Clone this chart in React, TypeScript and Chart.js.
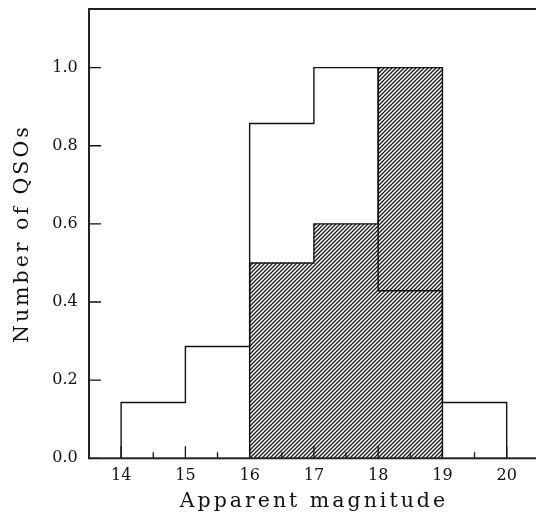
import React, { useEffect, useRef } from 'react';
import { Chart, registerables } from 'chart.js';

Chart.register(...registerables);

// ---- data ----
const binEdges = [14, 15, 16, 17, 18, 19, 20];
const allCounts = [0.143, 0.286, 0.857, 1.0, 0.429, 0.143];
const subEdges = [16, 17, 18, 19];
const subCounts = [0.5, 0.6, 1.0];
const xTicks = [14, 15, 16, 17, 18, 19, 20];
const yTicks = [0, 0.2, 0.4, 0.6, 0.8, 1.0];
const xRange = [13.5, 20.5];
const yRange = [0, 1.15];
const xTitle = 'Apparent magnitude';
const yTitle = 'Number of QSOs';

function stepPoints(edges: number[], counts: number[]) {
  const pts = [{ x: edges[0], y: 0 }];
  counts.forEach((c, i) => pts.push({ x: edges[i], y: c }));
  pts.push({ x: edges[edges.length - 1], y: 0 });
  return pts;
}

function makeHatch(): CanvasPattern | string {
  const c = document.createElement('canvas');
  c.width = 4;
  c.height = 4;
  const g = c.getContext('2d');
  if (!g) return '#888';
  g.fillStyle = '#ffffff';
  g.fillRect(0, 0, 4, 4);
  g.strokeStyle = '#1a1a1a';
  g.lineWidth = 1.3;
  g.beginPath();
  g.moveTo(-1, 5); g.lineTo(5, -1);
  g.moveTo(-1, 1); g.lineTo(1, -1);
  g.moveTo(3, 5); g.lineTo(5, 3);
  g.stroke();
  return g.createPattern(c, 'repeat') || '#888';
}

const INK = '#111111';
const FONT = "'DejaVu Serif', serif";

const spacingPlugin = {
  id: 'spacing',
  beforeDraw(chart: any) { chart.ctx.letterSpacing = '3px'; },
  beforeDatasetsDraw(chart: any) { chart.ctx.letterSpacing = '0px'; },
};

const framePlugin = {
  id: 'frame',
  afterDatasetsDraw(chart: any) {
    const { ctx, chartArea: a, scales } = chart;
    const xs = scales.x, ys = scales.y;
    ctx.save();
    ctx.strokeStyle = INK;
    ctx.lineWidth = 1.3;
    ctx.beginPath();
    xs.ticks.forEach((t: any) => {
      const px = xs.getPixelForValue(t.value);
      ctx.moveTo(px, a.bottom); ctx.lineTo(px, a.bottom - 12);
      const mv = t.value + 0.5;
      if (mv > xs.min && mv < xs.max) {
        const pm = xs.getPixelForValue(mv);
        ctx.moveTo(pm, a.bottom); ctx.lineTo(pm, a.bottom - 6);
      }
    });
    ys.ticks.forEach((t: any) => {
      const py = ys.getPixelForValue(t.value);
      ctx.moveTo(a.left, py); ctx.lineTo(a.left + 12, py);
    });
    ctx.stroke();
    ctx.lineWidth = 2;
    ctx.strokeStyle = '#222';
    ctx.strokeRect(a.left, a.top, a.right - a.left, a.bottom - a.top);
    ctx.restore();
  },
};

export default function App() {
  const ref = useRef<HTMLCanvasElement>(null);
  useEffect(() => {
    if (!ref.current) return;
    const chart = new Chart(ref.current, {
      type: 'line',
      data: {
        datasets: [
          {
            data: stepPoints(binEdges, allCounts),
            stepped: 'before',
            borderColor: INK,
            borderWidth: 1.4,
            pointRadius: 0,
            fill: false,
          },
          {
            data: stepPoints(subEdges, subCounts),
            stepped: 'before',
            borderColor: INK,
            borderWidth: 1.4,
            pointRadius: 0,
            fill: 'origin',
            backgroundColor: makeHatch() as any,
          },
        ],
      },
      options: {
        animation: false,
        responsive: false,
        devicePixelRatio: 1,
        layout: { padding: { top: 9, right: 21.2, left: 0, bottom: 0 } },
        plugins: { legend: { display: false }, tooltip: { enabled: false } },
        scales: {
          x: {
            type: 'linear',
            min: xRange[0],
            max: xRange[1],
            grid: { display: false, drawTicks: false },
            border: { display: false },
            afterBuildTicks: (s: any) => { s.ticks = xTicks.map((v) => ({ value: v })); },
            ticks: {
              padding: 8,
              z: 1,
              color: INK,
              font: { family: FONT, size: 16 },
              callback: (v: any) => String(v),
            },
            title: {
              display: true,
              text: xTitle,
              color: INK,
              font: { family: FONT, size: 20.5 },
              padding: { top: 0, bottom: 3 },
            },
            afterFit: (s: any) => { s.height = 58.7; s.paddingLeft = 0; s.paddingRight = 0; },
          },
          y: {
            type: 'linear',
            min: yRange[0],
            max: yRange[1],
            grid: { display: false, drawTicks: false },
            border: { display: false },
            afterBuildTicks: (s: any) => { s.ticks = yTicks.map((v) => ({ value: v })); },
            ticks: {
              padding: 11.3,
              z: 1,
              color: INK,
              font: { family: FONT, size: 16 },
              callback: (v: any) => Number(v).toFixed(1),
            },
            title: {
              display: true,
              text: yTitle,
              color: INK,
              font: { family: FONT, size: 20.5 },
              padding: { top: 10, bottom: 0 },
            },
            afterFit: (s: any) => { s.width = 89; s.paddingTop = 0; s.paddingBottom = 0; },
          },
        },
      } as any,
      plugins: [spacingPlugin, framePlugin],
    });
    return () => chart.destroy();
  }, []);
  return (
    <div style={{ position: 'absolute', left: 0, top: 0, width: 536, height: 517, overflow: 'hidden', background: '#fff' }}>
      <canvas ref={ref} width={560} height={517} style={{ width: 560, height: 517, display: 'block' }} />
    </div>
  );
}
